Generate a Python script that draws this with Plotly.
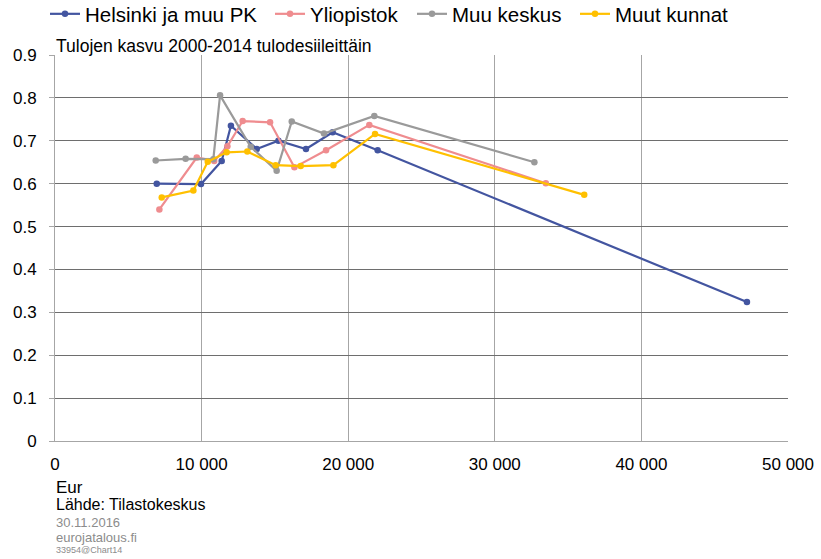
import plotly.graph_objects as go

series_names = ["Helsinki ja muu PK", "Yliopistok", "Muu keskus", "Muut kunnat"]
colors = ["#4355A0", "#EF8C8F", "#9A9A9A", "#FFC000"]

helsinki_x = [6940, 9960, 11370, 12000, 13760, 15240, 17120, 18940, 22010, 47200]
helsinki_y = [0.600, 0.599, 0.653, 0.735, 0.681, 0.700, 0.681, 0.720, 0.678, 0.324]

yliopisto_x = [7120, 9670, 10860, 11760, 12800, 14670, 16330, 18490, 21440, 33480]
yliopisto_y = [0.540, 0.661, 0.653, 0.687, 0.746, 0.743, 0.638, 0.678, 0.737, 0.601]

muukeskus_x = [6870, 8910, 10800, 11260, 13350, 15120, 16150, 18350, 21780, 32700]
muukeskus_y = [0.654, 0.658, 0.657, 0.806, 0.686, 0.630, 0.745, 0.717, 0.758, 0.650]

muutkunnat_x = [7280, 9440, 10420, 11710, 13120, 15050, 16760, 18990, 21830, 36100]
muutkunnat_y = [0.568, 0.584, 0.651, 0.673, 0.675, 0.643, 0.641, 0.643, 0.716, 0.574]

x_tickvals = [0, 10000, 20000, 30000, 40000, 50000]
x_ticktext = ["0", "10 000", "20 000", "30 000", "40 000", "50 000"]
y_tickvals = [0, 0.1, 0.2, 0.3, 0.4, 0.5, 0.6, 0.7, 0.8, 0.9]
y_ticktext = ["0", "0.1", "0.2", "0.3", "0.4", "0.5", "0.6", "0.7", "0.8", "0.9"]

xs = [helsinki_x, yliopisto_x, muukeskus_x, muutkunnat_x]
ys = [helsinki_y, yliopisto_y, muukeskus_y, muutkunnat_y]

font_main = "Liberation Sans, Arial, sans-serif"
PLOT_L, PLOT_W, PLOT_H = 55.0, 733.0, 386.0

# pixel origins of the four legend entries (one legend per series)
legend_origins_px = [45, 270, 412, 575]
legend_ids = ["legend", "legend2", "legend3", "legend4"]

fig = go.Figure()
for name, c, x, y, lid in zip(series_names, colors, xs, ys, legend_ids):
    fig.add_trace(go.Scatter(
        x=x, y=y, name=name, mode="lines+markers",
        line=dict(color=c, width=2.2),
        marker=dict(color=c, size=6.5, symbol="circle"),
        legend=lid,
    ))

legend_layout = {}
for lid, ox in zip(legend_ids, legend_origins_px):
    legend_layout[lid] = dict(
        orientation="h", x=(ox - PLOT_L) / PLOT_W, xanchor="left",
        y=1 + 61 / PLOT_H, yanchor="top",
        font=dict(family=font_main, size=20.5, color="#000000"),
        itemwidth=30, tracegroupgap=0, bgcolor="rgba(0,0,0,0)",
    )

fig.update_layout(
    width=821, height=559,
    margin=dict(l=55, r=33, t=55, b=118, autoexpand=False),
    paper_bgcolor="white", plot_bgcolor="white",
    font=dict(family=font_main, color="#000000", size=17),
    showlegend=True,
    xaxis=dict(
        range=[0, 50000], tickvals=x_tickvals, ticktext=x_ticktext,
        showgrid=True, gridcolor="#A6A6A6", gridwidth=1,
        showline=True, linecolor="#A6A6A6", linewidth=1, mirror=False,
        zeroline=False, ticks="", tickfont=dict(family=font_main, size=17, color="#000"),
        ticklabelstandoff=8, automargin=False,
    ),
    yaxis=dict(
        range=[0, 0.9], tickvals=y_tickvals, ticktext=y_ticktext,
        showgrid=True, gridcolor="#6E6E6E", gridwidth=1,
        showline=True, linecolor="#A6A6A6", linewidth=1,
        zeroline=False, ticks="outside", ticklen=5, tickcolor="#A6A6A6",
        ticklabelstandoff=9,
        tickfont=dict(family=font_main, size=17, color="#000"), automargin=False,
    ),
    **legend_layout,
)

annotations = [
    dict(text="Tulojen kasvu 2000-2014 tulodesiileittäin", xref="paper", yref="paper",
         x=0, y=1 - 2 / PLOT_H, xanchor="left", yanchor="bottom", showarrow=False,
         font=dict(family=font_main, size=17.5, color="#000")),
    dict(text="Eur", xref="paper", yref="paper", x=0, y=(441 - 487) / PLOT_H,
         xanchor="left", yanchor="middle", showarrow=False,
         font=dict(family=font_main, size=17, color="#000")),
    dict(text="Lähde: Tilastokeskus", xref="paper", yref="paper", x=0, y=(441 - 505) / PLOT_H,
         xanchor="left", yanchor="middle", showarrow=False,
         font=dict(family=font_main, size=16, color="#000")),
    dict(text="30.11.2016", xref="paper", yref="paper", x=0, y=(441 - 522) / PLOT_H,
         xanchor="left", yanchor="middle", showarrow=False,
         font=dict(family=font_main, size=13, color="#8C8C8C")),
    dict(text="eurojatalous.fi", xref="paper", yref="paper", x=0, y=(441 - 537) / PLOT_H,
         xanchor="left", yanchor="middle", showarrow=False,
         font=dict(family=font_main, size=13, color="#8C8C8C")),
    dict(text="33954@Chart14", xref="paper", yref="paper", x=0, y=(441 - 550) / PLOT_H,
         xanchor="left", yanchor="middle", showarrow=False,
         font=dict(family=font_main, size=9, color="#8C8C8C")),
]
for a in annotations:
    a["borderpad"] = 0
fig.update_layout(annotations=annotations)

fig.write_html(
    "out.html",
    config={"displayModeBar": False},
    post_script="document.body.style.margin='0px';document.body.style.overflow='hidden';",
)
